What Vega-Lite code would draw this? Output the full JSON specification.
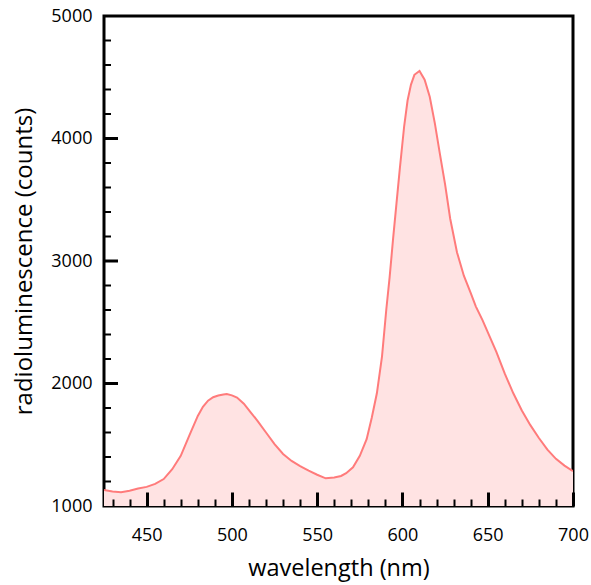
{
  "$schema": "https://vega.github.io/schema/vega-lite/v6.json",
  "width": 469,
  "height": 490,
  "autosize": "none",
  "padding": {"left": 104, "top": 16, "right": 18, "bottom": 79},
  "background": "white",
  "config": {
    "view": {"stroke": "black", "strokeWidth": 3},
    "font": "Open Sans",
    "axis": {"grid": false, "domain": false, "tickColor": "black", "labelColor": "black", "titleColor": "black", "labelFont": "Open Sans", "titleFont": "Open Sans", "labelFontWeight": "normal", "titleFontWeight": "normal", "labelFlush": false, "labelOverlap": false}
  },
  "datasets": {
    "spectrum": [
      {"wl": 425, "counts": 1130}, {"wl": 430, "counts": 1118}, {"wl": 435, "counts": 1112},
      {"wl": 440, "counts": 1125}, {"wl": 445, "counts": 1143}, {"wl": 450, "counts": 1156},
      {"wl": 455, "counts": 1180}, {"wl": 460, "counts": 1220}, {"wl": 465, "counts": 1300},
      {"wl": 470, "counts": 1410}, {"wl": 475, "counts": 1575}, {"wl": 480, "counts": 1735},
      {"wl": 483, "counts": 1810}, {"wl": 486, "counts": 1860}, {"wl": 489, "counts": 1888},
      {"wl": 492, "counts": 1902}, {"wl": 495, "counts": 1910}, {"wl": 497, "counts": 1914},
      {"wl": 500, "counts": 1903}, {"wl": 503, "counts": 1885}, {"wl": 507, "counts": 1835},
      {"wl": 511, "counts": 1765}, {"wl": 515, "counts": 1695}, {"wl": 520, "counts": 1600},
      {"wl": 525, "counts": 1505}, {"wl": 530, "counts": 1425}, {"wl": 535, "counts": 1368},
      {"wl": 540, "counts": 1325}, {"wl": 545, "counts": 1288}, {"wl": 550, "counts": 1255},
      {"wl": 555, "counts": 1226}, {"wl": 560, "counts": 1232}, {"wl": 564, "counts": 1245},
      {"wl": 567, "counts": 1268}, {"wl": 571, "counts": 1316}, {"wl": 575, "counts": 1410},
      {"wl": 579, "counts": 1545}, {"wl": 582, "counts": 1720}, {"wl": 585, "counts": 1920},
      {"wl": 588, "counts": 2220}, {"wl": 590.5, "counts": 2600}, {"wl": 592.5, "counts": 2870},
      {"wl": 594.5, "counts": 3180}, {"wl": 596.5, "counts": 3470}, {"wl": 598.5, "counts": 3760},
      {"wl": 601, "counts": 4100}, {"wl": 603, "counts": 4310}, {"wl": 605, "counts": 4440},
      {"wl": 607, "counts": 4520}, {"wl": 610, "counts": 4551}, {"wl": 613, "counts": 4480},
      {"wl": 616, "counts": 4341}, {"wl": 619, "counts": 4124}, {"wl": 622, "counts": 3870},
      {"wl": 625, "counts": 3625}, {"wl": 628, "counts": 3345}, {"wl": 632, "counts": 3070},
      {"wl": 636, "counts": 2880}, {"wl": 640, "counts": 2740}, {"wl": 643, "counts": 2630},
      {"wl": 647, "counts": 2515}, {"wl": 650, "counts": 2420}, {"wl": 655, "counts": 2260},
      {"wl": 660, "counts": 2080}, {"wl": 665, "counts": 1920}, {"wl": 670, "counts": 1780},
      {"wl": 675, "counts": 1660}, {"wl": 680, "counts": 1555}, {"wl": 685, "counts": 1460},
      {"wl": 690, "counts": 1385}, {"wl": 695, "counts": 1330}, {"wl": 700, "counts": 1285}
    ],
    "yminor": [
      {"counts": 1200}, {"counts": 1400}, {"counts": 1600}, {"counts": 1800},
      {"counts": 2200}, {"counts": 2400}, {"counts": 2600}, {"counts": 2800},
      {"counts": 3200}, {"counts": 3400}, {"counts": 3600}, {"counts": 3800},
      {"counts": 4200}, {"counts": 4400}, {"counts": 4600}, {"counts": 4800}
    ],
    "ymajor": [
      {"counts": 2000}, {"counts": 3000}, {"counts": 4000}
    ]
  },
  "layer": [
    {
      "data": {"name": "spectrum"},
      "mark": {"type": "area", "color": "#ffe3e3", "opacity": 1, "line": {"color": "#ff7b7b", "strokeWidth": 2}, "clip": true},
      "encoding": {
        "x": {"field": "wl", "type": "quantitative", "scale": {"domain": [425, 700], "nice": false, "zero": false},
              "axis": {"orient": "top", "offset": -490, "zindex": 1, "values": [430, 440, 460, 470, 480, 490, 510, 520, 530, 540, 560, 570, 580, 590, 610, 620, 630, 640, 660, 670, 680, 690], "labels": false, "tickSize": 7, "tickWidth": 2, "title": null}},
        "y": {"field": "counts", "type": "quantitative", "scale": {"domain": [1000, 5000], "nice": false, "zero": false},
              "axis": {"orient": "left", "values": [1000, 2000, 3000, 4000, 5000], "ticks": false, "format": "d", "labelFontSize": 18, "labelPadding": 12, "title": "radioluminescence (counts)", "titleFontSize": 24, "titlePadding": 14}}
      }
    },
    {
      "data": {"name": "spectrum"},
      "mark": {"type": "line", "strokeOpacity": 0},
      "encoding": {
        "x": {"field": "wl", "type": "quantitative",
              "axis": {"orient": "top", "offset": -490, "zindex": 1, "values": [450, 500, 550, 600, 650, 700], "labels": false, "tickSize": 14, "tickWidth": 3, "title": null}},
        "y": {"field": "counts", "type": "quantitative", "axis": null}
      }
    },
    {
      "data": {"name": "spectrum"},
      "mark": {"type": "line", "strokeOpacity": 0},
      "encoding": {
        "x": {"field": "wl", "type": "quantitative",
              "axis": {"orient": "bottom", "values": [450, 500, 550, 600, 650, 700], "ticks": false, "format": "d", "labelFontSize": 18, "labelPadding": 20, "title": "wavelength (nm)", "titleFontSize": 23.5, "titlePadding": 12}},
        "y": {"field": "counts", "type": "quantitative", "axis": null}
      }
    },
    {
      "data": {"name": "yminor"},
      "mark": {"type": "tick", "orient": "horizontal", "size": 14, "thickness": 2, "color": "black", "opacity": 1, "clip": true},
      "encoding": {
        "x": {"datum": 425, "type": "quantitative", "axis": null},
        "y": {"field": "counts", "type": "quantitative", "axis": null}
      }
    },
    {
      "data": {"name": "ymajor"},
      "mark": {"type": "tick", "orient": "horizontal", "size": 28, "thickness": 3, "color": "black", "opacity": 1, "clip": true},
      "encoding": {
        "x": {"datum": 425, "type": "quantitative", "axis": null},
        "y": {"field": "counts", "type": "quantitative", "axis": null}
      }
    }
  ],
  "resolve": {"axis": {"x": "independent", "y": "independent"}}
}
